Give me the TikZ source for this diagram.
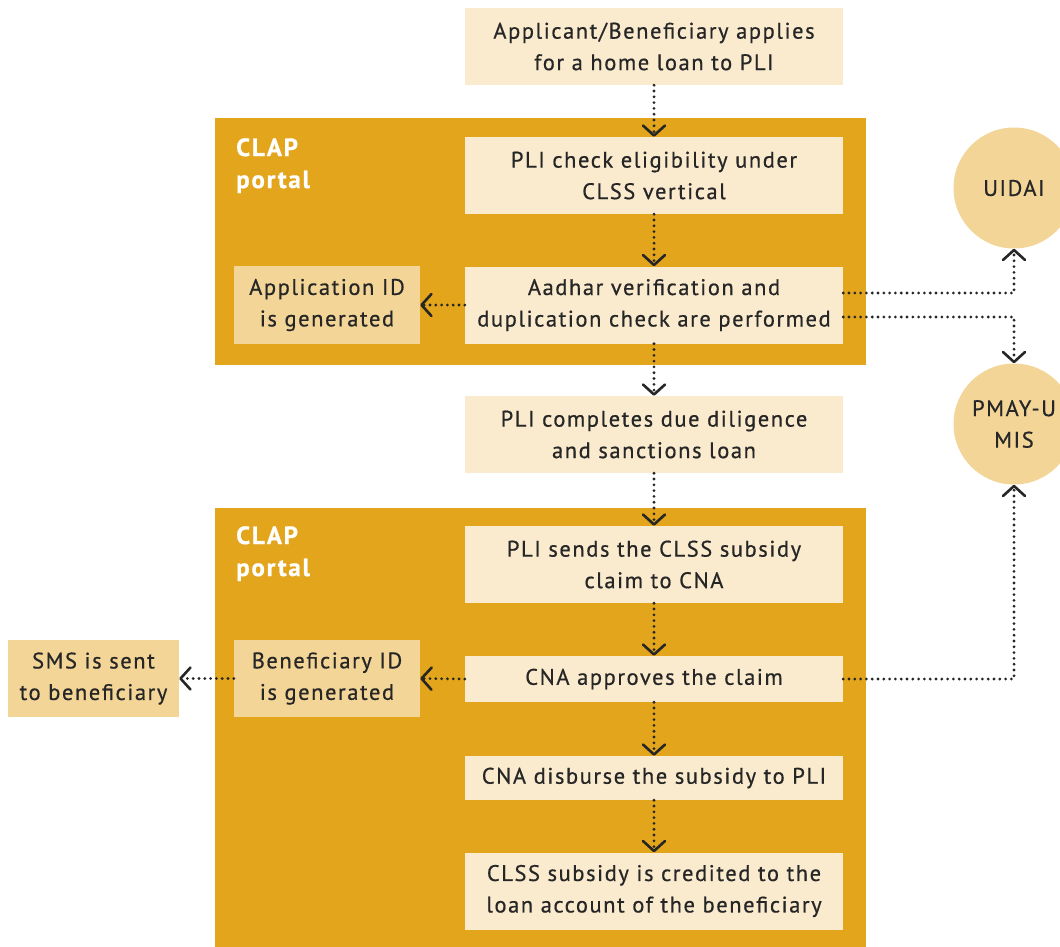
\documentclass[tikz,border=0pt]{standalone}
\usepackage{fontspec}
\setmainfont{PT Sans}[LetterSpace=7,FakeBold=0.6]
\usetikzlibrary{arrows.meta}

\definecolor{clapgold}{HTML}{E3A51C}
\definecolor{pale}{HTML}{FAEBCF}
\definecolor{sand}{HTML}{F3D597}
\definecolor{ink}{HTML}{262626}

\tikzset{
  stepbox/.style={rectangle, fill=pale, text=ink, align=center, inner sep=0pt,
    minimum width=378pt, minimum height=77pt,
    font=\fontsize{22.5}{31.5}\selectfont},
  sidebox/.style={stepbox, fill=sand, minimum width=186pt},
  portal/.style={rectangle, fill=clapgold, inner sep=0pt},
  portallabel/.style={anchor=north west, text=white, align=left, inner sep=0pt,
    font=\fontsize{25}{32}\selectfont\bfseries},
  agency/.style={circle, fill=sand, text=ink, align=center, inner sep=0pt,
    minimum size=121pt, font=\fontsize{22.5}{31.5}\selectfont},
  flow/.style={draw=ink, line width=3.1pt, line cap=round,
    dash pattern=on 0pt off 5.8pt,
    -{Straight Barb[length=10pt,width=22pt,line width=2.6pt,round]}},
}

\begin{document}
\begin{tikzpicture}[x=1pt,y=-1pt]
\useasboundingbox (0,0) rectangle (1060,946);

% CLAP portal panels
\node[portal, minimum width=651pt, minimum height=247pt] (clapA) at (540.5,241.5) {};
\node[portal, minimum width=651pt, minimum height=440pt] (clapB) at (540.5,728) {};
\node[portallabel] (labA) at (236,138) {CLAP\\portal};
\node[portallabel] (labB) at (236,526) {CLAP\\portal};

% main column
\node[stepbox] (apply)  at (654,46.5)  {Applicant/Beneficiary applies\\for a home loan to PLI};
\node[stepbox] (elig)   at (654,175.5) {PLI check eligibility under\\CLSS vertical};
\node[stepbox] (aadhar) at (654,305)   {Aadhar verification and\\duplication check are performed};
\node[stepbox] (due)    at (654,434.5) {PLI completes due diligence\\and sanctions loan};
\node[stepbox] (claim)  at (654,564.5) {PLI sends the CLSS subsidy\\claim to CNA};
\node[stepbox, minimum height=46pt] (approve) at (654,679) {CNA approves the claim};
\node[stepbox, minimum height=44pt] (disb)    at (654,778) {CNA disburse the subsidy to PLI};
\node[stepbox] (credit) at (654,891)   {CLSS subsidy is credited to the\\loan account of the beneficiary};

% side outputs
\node[sidebox, minimum height=78pt] (appid) at (327,305) {Application ID\\is generated};
\node[sidebox, minimum height=77pt] (benid) at (327,678.5) {Beneficiary ID\\is generated};
\node[sidebox, minimum width=171pt, minimum height=77pt] (sms) at (93.5,678.5) {SMS is sent\\to beneficiary};

% external agencies
\node[agency] (uidai) at (1014,188) {UIDAI};
\node[agency] (pmay)  at (1014,424) {PMAY-U\\MIS};

% connectors
\draw[flow] (apply.south) -- (elig.north);
\draw[flow] (elig.south) -- (aadhar.north);
\draw[flow] (aadhar.west) -- (appid.east);
\draw[flow] (aadhar.south) -- (due.north);
\draw[flow] (due.south) -- (claim.north);
\draw[flow] (claim.south) -- (approve.north);
\draw[flow] (approve.west) -- (benid.east);
\draw[flow] (benid.west) -- (sms.east);
\draw[flow] (approve.south) -- (disb.north);
\draw[flow] (disb.south) -- (credit.north);
\draw[flow] ([yshift=12pt]aadhar.east) -| (uidai.south);
\draw[flow] ([yshift=-12pt]aadhar.east) -| (pmay.north);
\draw[flow] (approve.east) -| (pmay.south);
\end{tikzpicture}
\end{document}
